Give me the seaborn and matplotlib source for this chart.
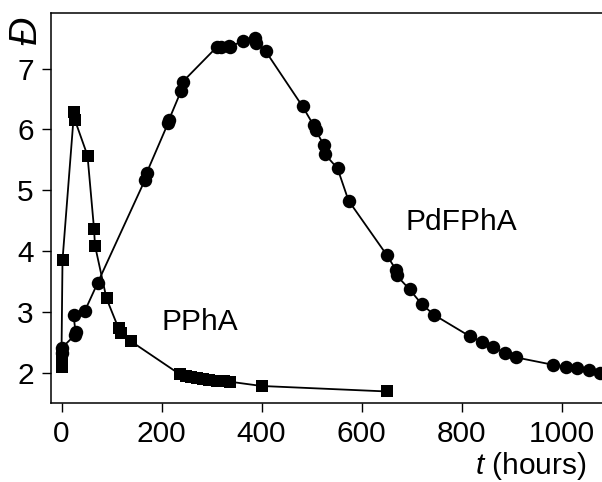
import numpy as np
import pandas as pd
import matplotlib
matplotlib.use("Agg")
import matplotlib.pyplot as plt
import seaborn as sns

# PPhA (squares)
ppha_t = [0, 0, 0, 2, 25, 27, 52, 65, 67, 90, 114, 118, 138,
          237, 248, 258, 270, 282, 295, 310, 325, 337, 400, 650]
ppha_d = [2.10, 2.20, 2.30, 3.85, 6.28, 6.15, 5.57, 4.37, 4.09, 3.22, 2.73, 2.65, 2.52,
          1.97, 1.95, 1.93, 1.91, 1.90, 1.88, 1.87, 1.86, 1.85, 1.78, 1.69]

# PdFPhA (circles)
pdf_t = [0, 0, 27, 28, 24, 47, 72, 167, 170, 213, 215, 239, 242, 310, 318, 334, 337,
         362, 387, 389, 408, 482, 504, 508, 525, 527, 552, 574, 650, 669, 670, 696,
         720, 745, 816, 840, 862, 886, 909, 982, 1009, 1030, 1054, 1077]
pdf_d = [2.33, 2.40, 2.62, 2.67, 2.95, 3.02, 3.47, 5.17, 5.28, 6.10, 6.16, 6.63, 6.78,
         7.35, 7.36, 7.38, 7.35, 7.46, 7.51, 7.42, 7.29, 6.38, 6.07, 5.99, 5.74, 5.59,
         5.36, 4.83, 3.94, 3.69, 3.60, 3.37, 3.13, 2.95, 2.60, 2.51, 2.42, 2.33, 2.25,
         2.13, 2.10, 2.08, 2.04, 2.00]

x_ticks = [0, 200, 400, 600, 800, 1000]
y_ticks = [2, 3, 4, 5, 6, 7]

sns.set_style("ticks")
plt.rcParams['font.family'] = ['Liberation Sans', 'DejaVu Sans']
plt.rcParams['mathtext.fontset'] = 'custom'
plt.rcParams['mathtext.it'] = 'Liberation Sans:italic'
plt.rcParams['mathtext.rm'] = 'Liberation Sans'

fig = plt.figure(figsize=(6.02, 4.82), dpi=100)
ax = fig.add_axes([51 / 602, 1 - 403 / 482, 1 - 51 / 602, (403 - 13.3) / 482])

df1 = pd.DataFrame({"t": ppha_t, "d": ppha_d})
df2 = pd.DataFrame({"t": pdf_t, "d": pdf_d})

sns.lineplot(data=df2, x="t", y="d", ax=ax, estimator=None, sort=False, color="black",
             linewidth=1.3, marker="o", markersize=9.7, markeredgewidth=0, zorder=3)
sns.lineplot(data=df1, x="t", y="d", ax=ax, estimator=None, sort=False, color="black",
             linewidth=1.3, marker="s", markersize=8.0, markeredgewidth=0, zorder=3)

ax.set_xlim(-21, 1081)
ax.set_ylim(1.50, 7.91)
ax.set_xticks(x_ticks)
ax.set_yticks(y_ticks)
ax.tick_params(axis="both", direction="out", length=6.5, width=1.0, labelsize=21.5,
               pad=6, color="black", labelcolor="black")
ax.set_xlabel("")
ax.set_ylabel("")
for s in ["left", "top", "bottom"]:
    ax.spines[s].set_linewidth(1.1)
    ax.spines[s].set_color("black")
ax.spines["right"].set_visible(False)

ax.text(687, 4.35, "PdFPhA", fontsize=21.5, ha="left", va="baseline", color="black")
ax.text(201, 2.70, "PPhA", fontsize=21.5, ha="left", va="baseline", color="black")

fig.text(586 / 602, 1 - 474 / 482, "$t$ (hours)", fontsize=21.5, ha="right",
         va="baseline", color="black")
fig.text(26 / 602, 1 - 31 / 482, "Đ", fontsize=28, style="italic", rotation=90,
         ha="center", va="center", color="black")

fig.savefig("out.png", dpi=100)
